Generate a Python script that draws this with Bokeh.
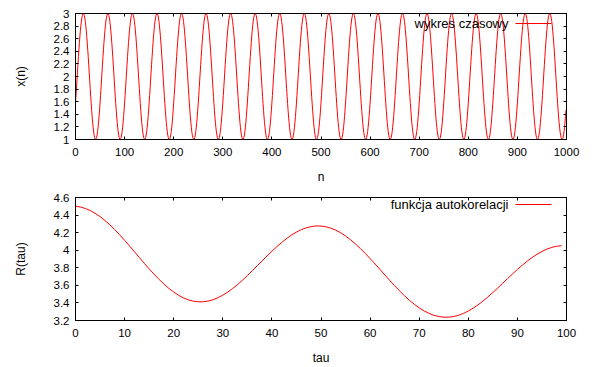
from bokeh.plotting import figure
from bokeh.layouts import column
from bokeh.models import (LinearAxis, FixedTicker, CustomJSTickFormatter, Range1d,
                          Label, Arrow)
from bokeh.embed import file_html
from bokeh.resources import INLINE

# ---- data ----
# one period (50 samples) of the time series; the signal repeats it 20 times over n = 0..999
x_cycle = [1.581, 1.698, 1.820, 1.944, 2.070, 2.194, 2.316, 2.432, 2.542, 2.643,
           2.734, 2.813, 2.880, 2.932, 2.970, 2.993, 3.000, 2.991, 2.967, 2.927,
           2.873, 2.805, 2.724, 2.632, 2.530, 2.420, 2.302, 2.181, 2.056, 1.930,
           1.806, 1.684, 1.568, 1.458, 1.357, 1.266, 1.187, 1.120, 1.068, 1.030,
           1.007, 1.000, 1.009, 1.033, 1.073, 1.127, 1.195, 1.276, 1.368, 1.470]
x_values = x_cycle * 20
n_values = list(range(len(x_values)))

r_values = [4.500, 4.492, 4.475, 4.452, 4.420, 4.383, 4.338, 4.289, 4.234, 4.175,
            4.113, 4.049, 3.983, 3.917, 3.852, 3.788, 3.727, 3.669, 3.615, 3.566,
            3.524, 3.487, 3.457, 3.435, 3.420, 3.413, 3.413, 3.421, 3.436, 3.459,
            3.488, 3.523, 3.564, 3.609, 3.658, 3.711, 3.766, 3.822, 3.878, 3.934,
            3.988, 4.040, 4.089, 4.133, 4.173, 4.206, 4.234, 4.255, 4.269, 4.276,
            4.275, 4.267, 4.251, 4.228, 4.199, 4.162, 4.120, 4.073, 4.020, 3.964,
            3.905, 3.844, 3.782, 3.719, 3.656, 3.596, 3.537, 3.482, 3.431, 3.385,
            3.344, 3.309, 3.281, 3.259, 3.245, 3.238, 3.238, 3.245, 3.259, 3.281,
            3.308, 3.341, 3.379, 3.422, 3.469, 3.519, 3.570, 3.623, 3.677, 3.729,
            3.781, 3.830, 3.875, 3.917, 3.954, 3.986, 4.012, 4.032, 4.045, 4.051]
tau_values = list(range(len(r_values)))

top_xticks = [0, 100, 200, 300, 400, 500, 600, 700, 800, 900, 1000]
top_yticks = [1, 1.2, 1.4, 1.6, 1.8, 2, 2.2, 2.4, 2.6, 2.8, 3]
bot_xticks = [0, 10, 20, 30, 40, 50, 60, 70, 80, 90, 100]
bot_yticks = [3.2, 3.4, 3.6, 3.8, 4, 4.2, 4.4, 4.6]

top_xlabel, top_ylabel, top_legend = "n", "x(n)", "wykres czasowy"
bot_xlabel, bot_ylabel, bot_legend = "tau", "R(tau)", "funkcja autokorelacji"

# ---- styling ----
FONT = "Liberation Sans"
TICK_SIZE = "11.5px"
LABEL_SIZE = "12px"
LEGEND_SIZE = "13px"
RED = "#ff0000"
W = 592


def make_fmt():
    return CustomJSTickFormatter(code="return String(parseFloat(tick.toFixed(3)));")


def style_axis(ax, ticks, show_labels=True, standoff=6):
    ax.ticker = FixedTicker(ticks=ticks)
    ax.formatter = make_fmt()
    ax.major_tick_in = 3
    ax.major_tick_out = 0
    ax.minor_tick_in = 0
    ax.minor_tick_out = 0
    ax.axis_line_color = "black"
    ax.major_tick_line_color = "black"
    ax.major_label_text_font = FONT
    ax.major_label_text_color = "black"
    if show_labels:
        ax.major_label_text_font_size = TICK_SIZE
        ax.major_label_standoff = standoff
    else:
        ax.major_label_text_font_size = "1px"
        ax.major_label_text_color = None
        ax.major_label_standoff = 0


def make_panel(xv, yv, xr, yr, xticks, yticks, xlabel, ylabel, legend_text,
               height, min_top, min_bottom, xlabel_standoff):
    p = figure(width=W, height=height, output_backend="svg", toolbar_location=None,
               x_range=Range1d(*xr), y_range=Range1d(*yr),
               min_border_left=75, min_border_right=26,
               min_border_top=min_top, min_border_bottom=min_bottom)
    p.grid.visible = False
    p.outline_line_color = "black"
    p.outline_line_width = 1
    p.background_fill_color = "white"
    p.border_fill_color = "white"

    style_axis(p.xaxis[0], xticks, standoff=8)
    style_axis(p.yaxis[0], yticks, standoff=6)
    p.xaxis.axis_label = xlabel
    p.yaxis.axis_label = ylabel
    for ax in (p.xaxis[0], p.yaxis[0]):
        ax.axis_label_text_font = FONT
        ax.axis_label_text_font_size = LABEL_SIZE
        ax.axis_label_text_font_style = "normal"
        ax.axis_label_text_color = "black"
    p.xaxis.axis_label_standoff = xlabel_standoff
    p.yaxis.axis_label_standoff = 23

    ax_r = LinearAxis()
    style_axis(ax_r, yticks, show_labels=False)
    p.add_layout(ax_r, "right")
    ax_t = LinearAxis()
    style_axis(ax_t, xticks, show_labels=False)
    p.add_layout(ax_t, "above")

    p.line(xv, yv, line_color=RED, line_width=1)

    # gnuplot-style key: right-aligned text followed by a sample line
    p.add_layout(Label(x=433, y=116, x_units="screen", y_units="screen",
                       text=legend_text, text_align="right", text_baseline="middle",
                       text_font=FONT, text_font_size=LEGEND_SIZE, text_color="black"))
    p.add_layout(Arrow(x_start=440, y_start=116, x_end=476, y_end=116,
                       start_units="screen", end_units="screen",
                       start=None, end=None, line_color=RED, line_width=1))
    return p


p1 = make_panel(n_values, x_values, (0, 1000), (1, 3), top_xticks, top_yticks,
                top_xlabel, top_ylabel, top_legend,
                height=188, min_top=13, min_bottom=49, xlabel_standoff=11)
p2 = make_panel(tau_values, r_values, (0, 100), (3.2, 4.6), bot_xticks, bot_yticks,
                bot_xlabel, bot_ylabel, bot_legend,
                height=179, min_top=9, min_bottom=45, xlabel_standoff=11)

layout = column(p1, p2, spacing=0)
open("out.html", "w").write(file_html(layout, INLINE))
